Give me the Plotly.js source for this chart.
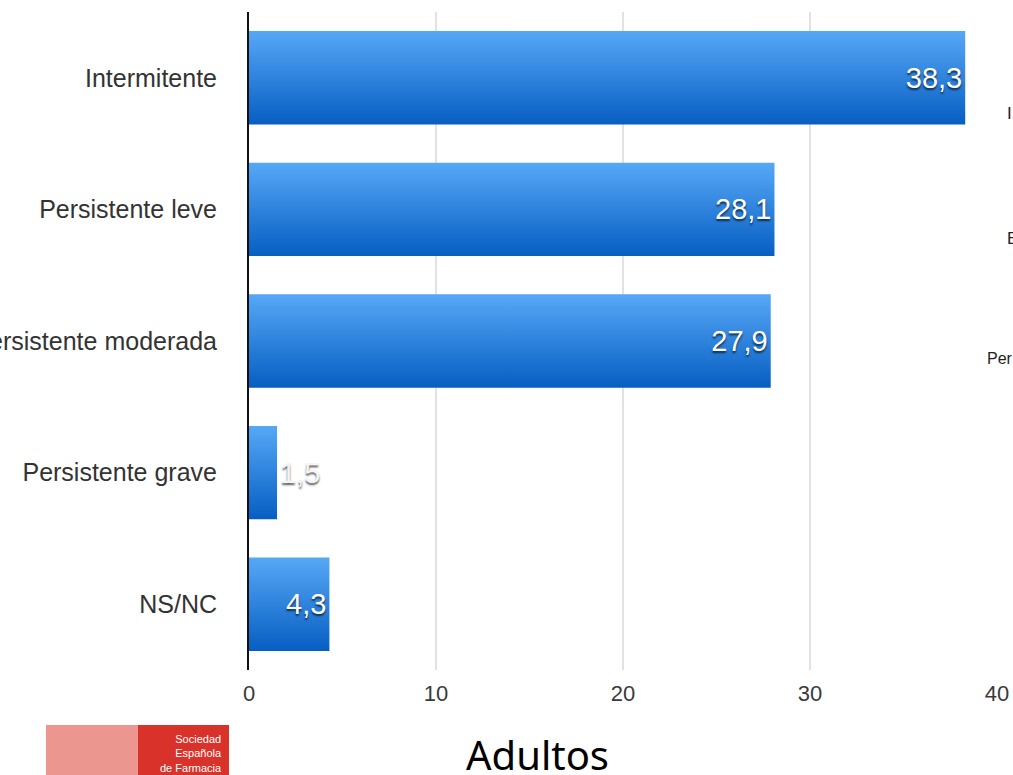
<!DOCTYPE html>
<html>
<head>
<meta charset="utf-8">
<script src="https://cdn.plot.ly/plotly-3.0.1.min.js"></script>
<style>
html,body{margin:0;padding:0;background:#fff;}
#chart{width:1013px;height:775px;}
</style>
</head>
<body>
<div id="chart"></div>
<script>
// Data
const categories = ["Intermitente", "Persistente leve", "Persistente moderada", "Persistente grave", "NS/NC"];
const values = [38.3, 28.1, 27.9, 1.5, 4.3];
const valueLabels = ["38,3", "28,1", "27,9", "1,5", "4,3"];
const labelPositions = ["inside", "inside", "inside", "outside", "inside"];
const xTicks = [0, 10, 20, 30, 40];
const title = "Adultos";
const logoLines = ["Sociedad", "Española", "de Farmacia"];
const sideFragments = ["I", "E", "Per"];

const trace = {
  type: "bar",
  orientation: "h",
  y: categories,
  x: values,
  text: valueLabels,
  textposition: labelPositions,
  insidetextanchor: "end",
  constraintext: "none",
  cliponaxis: false,
  textfont: {family: "Liberation Sans, Arial, sans-serif", size: 29, color: "#ffffff",
             shadow: "0px 2px 2px rgba(0,0,0,0.65)"},
  outsidetextfont: {family: "Liberation Sans, Arial, sans-serif", size: 29, color: "#f4f4f4",
             shadow: "0px 2px 2px rgba(0,0,0,0.65)"},
  marker: {color: "#2a80de", line: {width: 0}},
  hoverinfo: "none"
};

const PX = v => (v - 249) / 748;
const PY = v => (670 - v) / 658;

const layout = {
  width: 1013, height: 775,
  margin: {l: 249, r: 16, t: 12, b: 105},
  paper_bgcolor: "#ffffff",
  plot_bgcolor: "#ffffff",
  showlegend: false,
  bargap: 0.29,
  font: {family: "Liberation Sans, Arial, sans-serif", color: "#333"},
  xaxis: {
    range: [0, 40],
    tickvals: xTicks,
    ticktext: xTicks.map(String),
    showgrid: true, gridcolor: "#e2e2e2", gridwidth: 2,
    zeroline: false, showline: false,
    ticks: "", ticklabelstandoff: 8,
    tickfont: {size: 22, color: "#3a3a3a"},
    fixedrange: true
  },
  yaxis: {
    categoryorder: "array", categoryarray: categories,
    autorange: "reversed",
    showgrid: false, zeroline: false,
    showline: true, linecolor: "#111", linewidth: 2,
    ticks: "", ticklabelstandoff: 25,
    tickfont: {size: 25, color: "#333"},
    fixedrange: true
  },
  shapes: [
    {type: "rect", xref: "paper", yref: "paper", x0: PX(46), x1: PX(229), y0: PY(725), y1: PY(790),
     fillcolor: "#d8322b", line: {width: 0}, layer: "above"},
    {type: "rect", xref: "paper", yref: "paper", x0: PX(46), x1: PX(138), y0: PY(725), y1: PY(790),
     fillcolor: "#ec9690", line: {width: 0}, layer: "above"}
  ],
  annotations: [
    {xref: "paper", yref: "paper", x: PX(537), y: PY(754), xanchor: "center", yanchor: "middle",
     text: title, showarrow: false, font: {family: "Noto Sans, Liberation Sans, sans-serif", size: 40, color: "#000"}},
    {xref: "paper", yref: "paper", x: PX(224), y: PY(731), xanchor: "right", yanchor: "top", align: "right",
     text: logoLines.join("<br>"), showarrow: false,
     font: {family: "Liberation Sans Narrow, Liberation Sans, sans-serif", size: 11, color: "#ffffff"}},
    {xref: "paper", yref: "paper", x: PX(1005), y: PY(113), xanchor: "left", yanchor: "middle",
     text: sideFragments[0], showarrow: false, font: {size: 17, color: "#222"}},
    {xref: "paper", yref: "paper", x: PX(1005), y: PY(238), xanchor: "left", yanchor: "middle",
     text: sideFragments[1], showarrow: false, font: {size: 17, color: "#222"}},
    {xref: "paper", yref: "paper", x: PX(985), y: PY(358), xanchor: "left", yanchor: "middle",
     text: sideFragments[2], showarrow: false, font: {size: 16, color: "#222"}}
  ]
};

Plotly.newPlot("chart", [trace], layout, {staticPlot: true, displayModeBar: false}).then(function (gd) {
  // vertical gradient fill for bars
  const svg = gd.querySelector("svg.main-svg");
  const ns = "http://www.w3.org/2000/svg";
  let defs = svg.querySelector("defs");
  if (!defs) { defs = document.createElementNS(ns, "defs"); svg.insertBefore(defs, svg.firstChild); }
  const grad = document.createElementNS(ns, "linearGradient");
  grad.setAttribute("id", "barGrad");
  grad.setAttribute("x1", "0"); grad.setAttribute("y1", "0");
  grad.setAttribute("x2", "0"); grad.setAttribute("y2", "1");
  [["0%", "#56a8f6"], ["100%", "#075ec2"]].forEach(function (s) {
    const st = document.createElementNS(ns, "stop");
    st.setAttribute("offset", s[0]); st.setAttribute("stop-color", s[1]);
    grad.appendChild(st);
  });
  defs.appendChild(grad);
  gd.querySelectorAll(".barlayer .point path").forEach(function (p) {
    p.style.fill = "url(#barGrad)";
  });
});
</script>
</body>
</html>
